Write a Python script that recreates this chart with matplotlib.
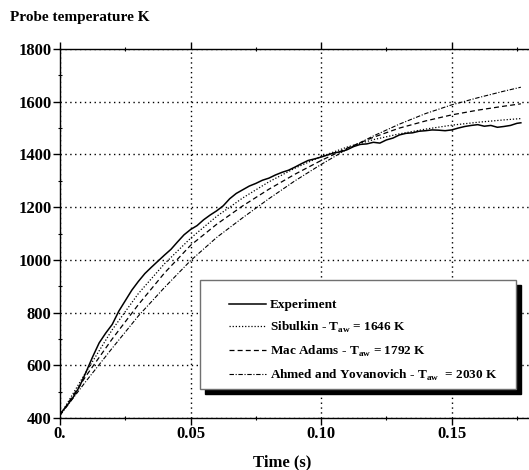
import numpy as np
import matplotlib.pyplot as plt
from matplotlib.patches import Rectangle
from matplotlib.ticker import MultipleLocator, FixedLocator

plt.rcParams['font.family'] = 'Liberation Serif'
plt.rcParams['font.weight'] = 'bold'
plt.rcParams['mathtext.fontset'] = 'custom'
plt.rcParams['mathtext.rm'] = 'Liberation Serif'
plt.rcParams['mathtext.bf'] = 'Liberation Serif:bold'

# measured probe temperature (K)
t_exp = [0.0, 0.0025, 0.005, 0.0075, 0.01, 0.0125, 0.015, 0.0175, 0.02, 0.0225,
         0.025, 0.0275, 0.03, 0.0325, 0.035, 0.0375, 0.04, 0.0425, 0.045, 0.0475,
         0.05, 0.0525, 0.055, 0.0575, 0.06, 0.0625, 0.065, 0.0675, 0.07, 0.0725,
         0.075, 0.0775, 0.08, 0.0825, 0.085, 0.0875, 0.09, 0.0925, 0.095, 0.0975,
         0.1, 0.1025, 0.105, 0.1075, 0.11, 0.1125, 0.115, 0.1175, 0.12, 0.1225,
         0.125, 0.1275, 0.13, 0.1325, 0.135, 0.1375, 0.14, 0.1425, 0.145, 0.1475,
         0.15, 0.1525, 0.155, 0.1575, 0.16, 0.1625, 0.165, 0.1675, 0.17, 0.1725,
         0.175, 0.1765]
T_exp = [415, 445, 478, 520, 575, 632, 685, 722, 755, 805,
         845, 885, 918, 948, 972, 995, 1018, 1040, 1068, 1095,
         1115, 1130, 1152, 1170, 1186, 1205, 1232, 1252, 1266, 1280,
         1290, 1302, 1310, 1322, 1332, 1340, 1352, 1365, 1377, 1383,
         1390, 1398, 1406, 1410, 1418, 1430, 1438, 1440, 1446, 1443,
         1455, 1462, 1474, 1480, 1482, 1488, 1490, 1493, 1492, 1490,
         1493, 1500, 1506, 1510, 1513, 1507, 1510, 1503, 1506, 1510,
         1518, 1520]

# model curves
t_mod = [0.0, 0.01, 0.02, 0.03, 0.04, 0.05, 0.06, 0.07, 0.08, 0.09, 0.10,
         0.11, 0.12, 0.13, 0.14, 0.15, 0.16, 0.17, 0.1765]
T_sibulkin = [410, 575, 735, 872, 985, 1082, 1165, 1235, 1296, 1348, 1392,
              1428, 1456, 1478, 1496, 1511, 1522, 1531, 1536]
T_macadams = [410, 560, 700, 830, 950, 1055, 1135, 1205, 1268, 1325, 1377,
              1424, 1465, 1500, 1527, 1550, 1568, 1583, 1592]
T_ahmed = [410, 540, 665, 787, 895, 997, 1085, 1160, 1232, 1300, 1362,
           1420, 1470, 1515, 1555, 1588, 1615, 1640, 1655]

labels = ['Experiment',
          r'Sibulkin - T$_{\mathrm{aw}}$ = 1646 K',
          r'Mac Adams - T$_{\mathrm{aw}}$ = 1792 K',
          r'Ahmed and Yovanovich - T$_{\mathrm{aw}}$  = 2030 K']

W, H = 529, 470
fig = plt.figure(figsize=(W / 100, H / 100), dpi=100)
ax = fig.add_axes([60 / W, 1 - 418 / H, 470 / W, 369 / H])

l1, = ax.plot(t_exp, T_exp, color='k', lw=1.1)
l2, = ax.plot(t_mod, T_sibulkin, color='k', lw=0.9, ls=(0, (1, 1.5)))
l3, = ax.plot(t_mod, T_macadams, color='k', lw=0.9, ls=(0, (4, 2.5)))
l4, = ax.plot(t_mod, T_ahmed, color='k', lw=0.8, ls=(0, (4, 1.5, 1, 1.5)))

ax.set_xlim(0, 0.18)
ax.set_ylim(400, 1800)
ax.xaxis.set_major_locator(FixedLocator([0, 0.05, 0.10, 0.15]))
ax.set_xticklabels(['0.', '0.05', '0.10', '0.15'])
ax.xaxis.set_minor_locator(MultipleLocator(0.025))
ax.yaxis.set_major_locator(MultipleLocator(200))
ax.yaxis.set_minor_locator(MultipleLocator(100))
ax.tick_params(which='major', direction='out', length=5, width=1, labelsize=12, pad=1)
ax.tick_params(which='minor', direction='inout', length=3, width=0.8)
ax.tick_params(axis='x', top=True, which='both')
ax.grid(True, which='major', color='k', ls=(0, (1, 2.5)), lw=1)
ax.spines['right'].set_visible(False)
for s in ['left', 'bottom', 'top']:
    ax.spines[s].set_linewidth(1)

fig.text(282 / W, 1 - 462 / H, 'Time (s)', fontsize=12, ha='center', va='center')
fig.text(10 / W, 1 - 18 / H, 'Probe temperature K', fontsize=11, ha='left', va='center')

# legend box with black drop shadow, drawn in figure pixels
x0, y0, x1, y1 = 200, 280, 516, 389
shadow = Rectangle(((x0 + 5) / W, 1 - (y1 + 5) / H), (x1 - x0) / W, (y1 - y0) / H,
                   transform=fig.transFigure, facecolor='k', edgecolor='k', zorder=5)
frame = Rectangle((x0 / W, 1 - y1 / H), (x1 - x0) / W, (y1 - y0) / H,
                  transform=fig.transFigure, facecolor='white', edgecolor='#707070',
                  lw=1, zorder=5.1)
fig.add_artist(shadow)
fig.add_artist(frame)

leg = fig.legend([l1, l2, l3, l4], labels, loc='upper left',
                 bbox_to_anchor=(229 / W, 1 - 299 / H),
                 bbox_transform=fig.transFigure, fontsize=9.5, frameon=False,
                 borderpad=0, labelspacing=0.66, handlelength=2.8,
                 handletextpad=0.3, borderaxespad=0)
leg.set_zorder(6)

fig.savefig('out.png', dpi=100)
